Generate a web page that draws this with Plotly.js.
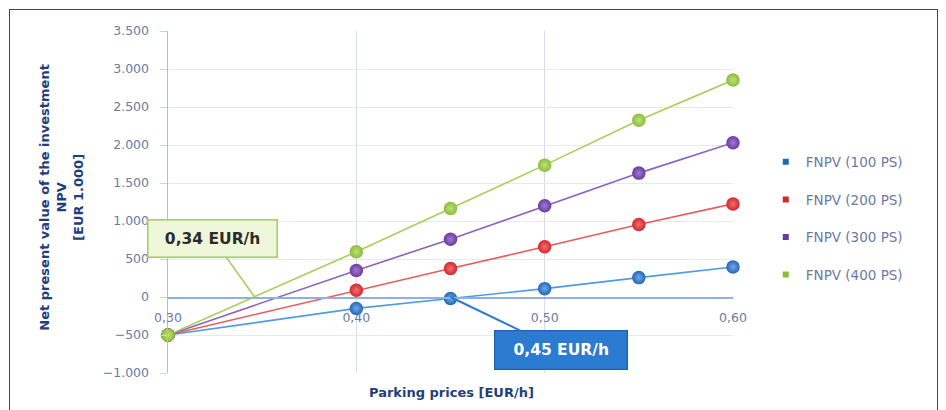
<!DOCTYPE html>
<html>
<head>
<meta charset="utf-8">
<script src="https://cdn.plot.ly/plotly-3.0.1.min.js"></script>
<style>
  html, body { margin: 0; padding: 0; background: #fff; }
  #wrap { position: relative; width: 946px; height: 410px; }
  #chart { width: 946px; height: 410px; }
  #frame { position: absolute; left: 9px; top: 9px; width: 929px; height: 410px;
           border-left: 1.5px solid #444; border-top: 1.5px solid #444; border-right: 1.5px solid #444;
           pointer-events: none; box-sizing: border-box; }
</style>
</head>
<body>
<div id="wrap">
  <div id="chart"></div>
  <div id="frame"></div>
</div>
<script>
// Parking price (EUR/h)
const parkingPrices = [0.30, 0.40, 0.45, 0.50, 0.55, 0.60];
// FNPV in EUR 1.000
const fnpv100 = [-500, -150, -20, 110, 255, 395];
const fnpv200 = [-500, 90, 375, 660, 955, 1225];
const fnpv300 = [-500, 350, 760, 1200, 1630, 2030];
const fnpv400 = [-500, 595, 1165, 1735, 2325, 2855];

const seriesNames = ['FNPV (100 PS)', 'FNPV (200 PS)', 'FNPV (300 PS)', 'FNPV (400 PS)'];
const seriesValues = [fnpv100, fnpv200, fnpv300, fnpv400];

const xTickVals = [0.30, 0.40, 0.50, 0.60];
const yTickVals = [-1000, -500, 0, 500, 1000, 1500, 2000, 2500, 3000, 3500];

const breakEven400 = 0.346;  // 0,34 EUR/h
const breakEven100 = 0.45;   // 0,45 EUR/h

const lineColors = ['#4d9be6', '#ea5a5a', '#8a62bf', '#a7cf58'];
const markerColors = ['#2367b6', '#d2282c', '#6a3b9f', '#8cbd3a'];
const markerLight = ['#6fa8e8', '#f07070', '#a07ad0', '#bfe07a'];

const traces = [];
seriesValues.forEach((vals, i) => {
  traces.push({
    x: parkingPrices, y: vals, type: 'scatter', mode: 'lines+markers',
    name: seriesNames[i], showlegend: false, cliponaxis: false,
    line: { color: lineColors[i], width: 1.6 },
    marker: { color: markerColors[i], size: 13.5,
              gradient: { type: 'radial', color: markerLight[i] },
              line: { width: 0 } }
  });
});
seriesValues.forEach((vals, i) => {
  traces.push({
    x: [null], y: [null], type: 'scatter', mode: 'markers',
    name: seriesNames[i], legendgroup: 'g' + i, showlegend: true,
    marker: { color: markerColors[i], size: 6, symbol: 'square' }
  });
});

const textBlue = '#6a7aa3';
const titleBlue = '#1f3e7c';
const fam = 'DejaVu Sans, Liberation Sans, sans-serif';

const layout = {
  width: 946, height: 410,
  separators: ',.',
  margin: { l: 168, r: 213, t: 31, b: 37 },
  paper_bgcolor: '#ffffff', plot_bgcolor: '#ffffff',
  font: { family: fam, size: 12, color: textBlue },
  showlegend: true,
  legend: {
    x: 1.058, y: 0.662, xanchor: 'left', yanchor: 'top',
    traceorder: 'grouped', tracegroupgap: 17,
    font: { family: fam, size: 13.5, color: textBlue },
    itemwidth: 30, bgcolor: 'rgba(0,0,0,0)'
  },
  xaxis: {
    range: [0.30, 0.60], tickvals: xTickVals, tickformat: '.2f',
    anchor: 'free', position: 1000 / 4500,
    showline: true, linecolor: '#8fb0e2', linewidth: 1.5,
    showgrid: true, gridcolor: '#d3dcf0', gridwidth: 1,
    zeroline: false, ticks: 'outside', ticklen: 8, tickcolor: 'rgba(0,0,0,0)',
    tickfont: { family: fam, size: 12.5, color: textBlue },
    fixedrange: true
  },
  yaxis: {
    range: [-1000, 3500], tickvals: yTickVals, tickformat: ',d',
    showline: true, linecolor: '#a6c0ea', linewidth: 1.5,
    showgrid: true, gridcolor: '#e4e9f4', gridwidth: 1,
    zeroline: false, ticks: 'outside', ticklen: 7, tickcolor: '#c7d3ec',
    ticklabelstandoff: 8,
    tickfont: { family: fam, size: 12.5, color: textBlue }, fixedrange: true
  },
  annotations: [
    {
      xref: 'paper', yref: 'paper', x: -0.188, y: 0.515,
      xanchor: 'center', yanchor: 'middle', textangle: -90, showarrow: false,
      text: '<b>Net present value of the investment<br>NPV<br>[EUR 1.000]</b>',
      font: { family: fam, size: 13, color: titleBlue }
    },
    {
      xref: 'paper', yref: 'paper', x: 0.501, y: -0.056,
      xanchor: 'center', yanchor: 'middle', showarrow: false,
      text: '<b>Parking prices [EUR/h]</b>',
      font: { family: fam, size: 13, color: titleBlue }
    },
    {
      x: breakEven400, y: 0, xref: 'x', yref: 'y',
      ax: -42, ay: -59, showarrow: true, arrowhead: 0, arrowwidth: 1.6, arrowcolor: '#a9cf5a',
      text: '<b>0,34 EUR/h</b>', font: { family: fam, size: 15.5, color: '#2b2b2b' },
      bgcolor: '#eef7da', bordercolor: '#a9cf5a', borderwidth: 1.6, borderpad: 2,
      width: 124, height: 32
    },
    {
      x: breakEven100, y: 0, xref: 'x', yref: 'y',
      ax: 110, ay: 53, showarrow: true, arrowhead: 0, arrowwidth: 2, arrowcolor: '#2b7bd0',
      text: '<b>0,45 EUR/h</b>', font: { family: fam, size: 15.5, color: '#ffffff' },
      bgcolor: '#2b7bd0', bordercolor: '#1d62b0', borderwidth: 1.2, borderpad: 2,
      width: 128, height: 34
    }
  ]
};

Plotly.newPlot('chart', traces, layout, { displayModeBar: false, staticPlot: true });
</script>
</body>
</html>
